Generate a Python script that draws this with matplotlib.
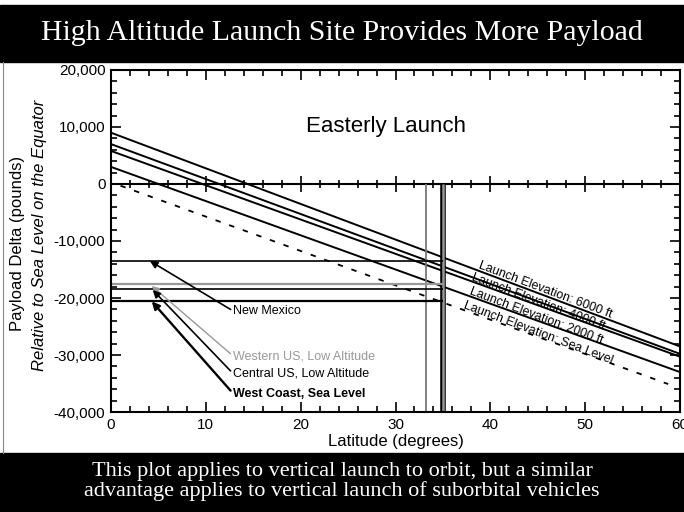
import numpy as np
import matplotlib

matplotlib.use("Agg")

import matplotlib.pyplot as plt  # noqa: E402

# Rectas de carga útil por elevación del sitio: valor en latitud 0 y 60 (lb)
lat_extremos = [0, 60]
elevaciones = ["6000 ft", "4000 ft", "2000 ft", "Sea Level"]
carga_6000 = [9000, -28500]
carga_4000 = [7000, -29800]
carga_2000 = [5800, -30300]
carga_mar = [3000, -33000]

# Curva punteada de referencia
lat_punteada = [1, 58.75]
carga_punteada = [-300, -35100]

# Sitios de lanzamiento (líneas horizontales hasta ~35°)
sitios = ["New Mexico", "Western US, Low Altitude",
          "Central US, Low Altitude", "West Coast, Sea Level"]
carga_sitios = [-13500, -17600, -18500, -20500]
lat_fin_sitios = 35
lat_verticales = [33.2, 35]

fig = plt.figure(figsize=(6.84, 5.12), dpi=100)
plt.rcParams["font.family"] = ["Liberation Sans", "DejaVu Sans"]

# bandas negras de título y pie
fig.patches.append(plt.Rectangle((0, 0.879), 1, 0.111, transform=fig.transFigure,
                                 color="black", zorder=0))
fig.patches.append(plt.Rectangle((0, 0), 1, 0.115, transform=fig.transFigure,
                                 color="black", zorder=0))
fig.text(0.5, 0.935, "High Altitude Launch Site Provides More Payload",
         color="white", ha="center", va="center", fontsize=21.5,
         family="Liberation Serif")
fig.text(0.5, 0.060,
         "This plot applies to vertical launch to orbit, but a similar\n"
         "advantage applies to vertical launch of suborbital vehicles",
         color="white", ha="center", va="center", fontsize=16,
         family="Liberation Serif", linespacing=1.0)

ax = fig.add_axes([0.1623, 0.1953, 0.8319, 0.668])
ax.set_xlim(0, 60)
ax.set_ylim(-40000, 20000)

# rectas de elevación
for vals in [carga_6000, carga_4000, carga_2000, carga_mar]:
    ax.plot(lat_extremos, vals, color="black", lw=1.4, solid_capstyle="butt")
ax.plot(lat_punteada, carga_punteada, color="black", lw=1.3, ls=(0, (3, 5)))

# verticales de latitud (desde la línea de cero hacia abajo)
ax.vlines(lat_verticales[0], -40000, 0, color="#777777", lw=1.3)
ax.vlines(lat_verticales[1], -40000, 0, color="black", lw=4)
ax.vlines(lat_verticales[1], -40000, 0, color="#999999", lw=1.8)

# horizontales de sitios
colores_sitio = ["black", "#999999", "black", "black"]
grosor_sitio = [1.2, 1.6, 1.2, 1.6]
for val, col, lw in zip(carga_sitios, colores_sitio, grosor_sitio):
    ax.hlines(val, 0, lat_fin_sitios, color=col, lw=lw)

# etiquetas con flecha
pos_texto = [(12.9, -22300), (12.9, -30200), (12.9, -33300), (12.9, -36800)]
pos_punta = [(4.1, -13500), (4.3, -17900), (4.4, -18600), (4.3, -20600)]
colores_txt = ["black", "#999999", "black", "black"]
peso_txt = ["normal", "normal", "normal", "bold"]
grosor_flecha = [1.2, 1.0, 1.2, 1.7]
for nombre, xt, xp, col, w, lw in zip(sitios, pos_texto, pos_punta,
                                      colores_txt, peso_txt, grosor_flecha):
    ax.annotate(nombre, xy=xp, xytext=xt, fontsize=9, color=col, weight=w,
                ha="left", va="center",
                arrowprops=dict(arrowstyle="-|>", color=col, lw=lw,
                                mutation_scale=11, shrinkA=0, shrinkB=0,
                                relpos=(0, 0.5)))

# etiquetas de las rectas, giradas con la pendiente
pendiente = (carga_6000[1] - carga_6000[0]) / (lat_extremos[1] - lat_extremos[0])
angulo = ax.transData.transform_angles(np.array([np.degrees(np.arctan(pendiente))]),
                                       np.array([[45, -19000]]))[0]
pos_elev = [(45.8, -18600), (45.1, -20700), (44.8, -23100), (45.0, -26100)]
for nombre, (x, y) in zip(elevaciones, pos_elev):
    ax.text(x, y, f"Launch Elevation: {nombre}", fontsize=9, rotation=angulo,
            rotation_mode="anchor", ha="center", va="center")

ax.text(29.0, 10000, "Easterly Launch", fontsize=16, ha="center", va="center")

# ejes y marcas
ax.set_xticks(np.arange(0, 61, 10))
ax.set_xticks(np.arange(0, 61, 2), minor=True)
ax.set_yticks(np.arange(-40000, 20001, 10000))
ax.set_yticks(np.arange(-40000, 20001, 2000), minor=True)
ax.set_yticklabels([f"{v:,}" for v in range(-40000, 20001, 10000)])
ax.tick_params(which="both", direction="in", top=True, right=True,
               labelsize=11, width=1.2)
ax.tick_params(which="major", length=7, pad=4)
ax.tick_params(which="minor", length=4)
for s in ax.spines.values():
    s.set_linewidth(1.5)

# línea de cero con marcas, como eje secundario
loc_cero = (0 - ax.get_ylim()[0]) / (ax.get_ylim()[1] - ax.get_ylim()[0])
sec = ax.secondary_xaxis(loc_cero)
sec.set_xticks(np.arange(0, 61, 10))
sec.set_xticks(np.arange(0, 61, 2), minor=True)
sec.tick_params(which="both", direction="inout", labelbottom=False,
                labeltop=False, width=1.2)
sec.tick_params(which="major", length=12)
sec.tick_params(which="minor", length=6)
sec.spines["bottom"].set_linewidth(1.5)
sec.spines["top"].set_linewidth(1.5)

ax.set_xlabel("Latitude (degrees)", fontsize=12, labelpad=2)
fig.text(0.026, 0.525, "Payload Delta (pounds)", rotation=90, fontsize=12,
         ha="center", va="center")
fig.text(0.058, 0.54, "Relative to Sea Level on the Equator", rotation=90,
         fontsize=12, style="italic", ha="center", va="center")

# borde fino a la izquierda
fig.add_artist(plt.Line2D([0.004, 0.004], [0.115, 0.879], color="#888888", lw=0.8))

fig.savefig("out.png", dpi=100)
plt.close(fig)
